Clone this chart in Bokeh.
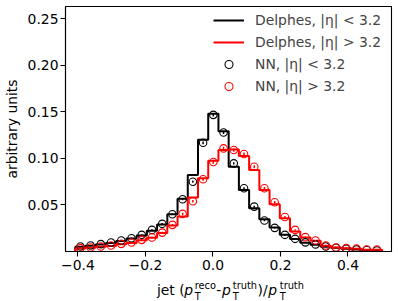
import numpy as np
from bokeh.plotting import figure
from bokeh.layouts import column
from bokeh.core.properties import value
from bokeh.models import Range1d, FixedTicker, Legend, LegendItem, ColumnDataSource
from bokeh.embed import file_html
from bokeh.resources import INLINE

# ---------------- data ----------------
bin_edges = [-0.408, -0.3777, -0.3474, -0.3171, -0.2868, -0.2565, -0.2262, -0.1959,
             -0.1656, -0.1353, -0.105, -0.0747, -0.0444, -0.0141, 0.0162, 0.0465,
             0.0768, 0.1071, 0.1374, 0.1677, 0.198, 0.2283, 0.2586, 0.2889, 0.3192,
             0.3495, 0.3798, 0.4101, 0.4404, 0.4707, 0.501]

delphes_central = [0.0050, 0.0062, 0.0075, 0.0092, 0.0112, 0.0140, 0.0172, 0.0222,
                   0.0290, 0.0400, 0.0565, 0.0820, 0.1200, 0.1480, 0.1290, 0.0910,
                   0.0660, 0.0465, 0.0347, 0.0257, 0.0180, 0.0133, 0.0095, 0.0072,
                   0.0052, 0.0040, 0.0030, 0.0022, 0.0016, 0.0011]
delphes_forward = [0.0032, 0.0040, 0.0050, 0.0060, 0.0078, 0.0092, 0.0120, 0.0148,
                   0.0198, 0.0280, 0.0375, 0.0580, 0.0786, 0.0974, 0.1089, 0.1096,
                   0.1025, 0.0875, 0.0660, 0.0507, 0.0358, 0.0214, 0.0150, 0.0115,
                   0.0062, 0.0042, 0.0035, 0.0030, 0.0020, 0.0020]

nn_central = [0.0054, 0.0064, 0.0079, 0.0096, 0.0118, 0.0143, 0.0179, 0.0232,
              0.0297, 0.0400, 0.0561, 0.0749, 0.1167, 0.1467, 0.1278, 0.0946,
              0.0679, 0.0482, 0.0332, 0.0254, 0.0179, 0.0136, 0.0098, 0.0076,
              0.0054, 0.0040, 0.0030, 0.0022, 0.0016, 0.0011]
nn_central_err = [0.0004, 0.0004, 0.0005, 0.0005, 0.0006, 0.0006, 0.0007, 0.0008,
                  0.0008, 0.0009, 0.0011, 0.0012, 0.0015, 0.0017, 0.0016, 0.0013,
                  0.0011, 0.0009, 0.0008, 0.0007, 0.0006, 0.0006, 0.0005, 0.0005,
                  0.0004, 0.0004, 0.0003, 0.0003, 0.0003, 0.0002]
nn_forward = [0.0036, 0.0043, 0.0054, 0.0064, 0.0082, 0.0096, 0.0125, 0.0150,
              0.0203, 0.0286, 0.0404, 0.0540, 0.0775, 0.0960, 0.1107, 0.1089,
              0.1046, 0.0910, 0.0679, 0.0529, 0.0370, 0.0232, 0.0154, 0.0118,
              0.0064, 0.0043, 0.0036, 0.0032, 0.0021, 0.0021]
nn_forward_err = [0.0004, 0.0004, 0.0005, 0.0005, 0.0006, 0.0006, 0.0007, 0.0008,
                  0.0009, 0.0010, 0.0012, 0.0013, 0.0015, 0.0017, 0.0018, 0.0018,
                  0.0017, 0.0016, 0.0014, 0.0012, 0.0010, 0.0008, 0.0007, 0.0006,
                  0.0005, 0.0004, 0.0004, 0.0004, 0.0003, 0.0003]

x_ticks = [-0.4, -0.2, 0.0, 0.2, 0.4]
x_tick_labels = ["\u22120.4", "\u22120.2", "0.0", "0.2", "0.4"]
y_ticks = [0.05, 0.10, 0.15, 0.20, 0.25]
y_tick_labels = ["0.05", "0.10", "0.15", "0.20", "0.25"]

y_title = "arbitrary units"
legend_labels = ["Delphes, |\u03b7| < 3.2", "Delphes, |\u03b7| > 3.2",
                 "NN, |\u03b7| < 3.2", "NN, |\u03b7| > 3.2"]

# ---------------- derived geometry ----------------
edges = np.array(bin_edges)
centers = 0.5 * (edges[:-1] + edges[1:])


def step_outline(vals):
    v = np.array(vals)
    xs = np.concatenate([[edges[0]], np.repeat(edges, 2)[1:-1], [edges[-1]]])
    ys = np.concatenate([[0.0], np.repeat(v, 2), [0.0]])
    return xs, ys


FONT = "DejaVu Sans"
FS = "13.9px"
SMALL = "9.8px"

W = 398
FL, FR = 63, 391          # frame left / right in page pixels
X0, X1 = -0.437, 0.529
p = figure(width=W, height=276, output_backend="svg", toolbar_location=None,
           title=None, x_range=Range1d(X0, X1), y_range=Range1d(0, 0.263),
           min_border_left=FL, min_border_right=W - FR, min_border_top=6,
           min_border_bottom=25)

p.background_fill_color = "white"
p.border_fill_color = "white"
p.grid.visible = False
p.outline_line_color = "black"
p.outline_line_width = 1.1

for ax in (p.xaxis[0], p.yaxis[0]):
    ax.axis_line_color = "black"
    ax.axis_line_width = 1.1
    ax.major_tick_line_color = "black"
    ax.major_tick_line_width = 1.1
    ax.major_tick_in = 0
    ax.major_tick_out = 5
    ax.minor_tick_line_color = None
    ax.major_label_text_font = FONT
    ax.major_label_text_font_size = FS
    ax.major_label_text_color = "black"

p.xaxis.ticker = FixedTicker(ticks=x_ticks)
p.xaxis.major_label_overrides = dict(zip(x_ticks, x_tick_labels))
p.xaxis.major_label_standoff = 3
p.yaxis.ticker = FixedTicker(ticks=y_ticks)
p.yaxis.major_label_overrides = dict(zip(y_ticks, y_tick_labels))
p.yaxis.major_label_standoff = 2
p.yaxis.axis_label = y_title
p.yaxis.axis_label_text_font = FONT
p.yaxis.axis_label_text_font_size = FS
p.yaxis.axis_label_text_font_style = "normal"
p.yaxis.axis_label_text_color = "black"
p.yaxis.axis_label_standoff = 5

# Delphes step histograms
xc, yc = step_outline(delphes_central)
xf, yf = step_outline(delphes_forward)
r_dc = p.line(xc, yc, line_color="black", line_width=2)
r_df = p.line(xf, yf, line_color="red", line_width=2)

# NN points with error bars
src_c = ColumnDataSource(dict(x=centers, y=nn_central,
                              lo=np.array(nn_central) - np.array(nn_central_err),
                              hi=np.array(nn_central) + np.array(nn_central_err)))
src_f = ColumnDataSource(dict(x=centers, y=nn_forward,
                              lo=np.array(nn_forward) - np.array(nn_forward_err),
                              hi=np.array(nn_forward) + np.array(nn_forward_err)))
p.segment(x0="x", y0="lo", x1="x", y1="hi", source=src_c, line_color="black", line_width=1.5)
r_nc = p.scatter("x", "y", source=src_c, marker="circle", size=7.5, fill_color=None,
                 line_color="black", line_width=1.1)
p.segment(x0="x", y0="lo", x1="x", y1="hi", source=src_f, line_color="red", line_width=1.5)
r_nf = p.scatter("x", "y", source=src_f, marker="circle", size=7.5, fill_color=None,
                 line_color="red", line_width=1.1)

legend = Legend(items=[LegendItem(label=legend_labels[0], renderers=[r_dc]),
                       LegendItem(label=legend_labels[1], renderers=[r_df]),
                       LegendItem(label=legend_labels[2], renderers=[r_nc]),
                       LegendItem(label=legend_labels[3], renderers=[r_nf])],
                location=(148, 155), margin=0, padding=2, spacing=2,
                glyph_width=31, glyph_height=20, label_height=20, label_standoff=11,
                label_text_font=FONT, label_text_font_size=FS,
                border_line_color=None, background_fill_alpha=0)
p.add_layout(legend)

# ---------------- x axis title strip: jet (p_T^reco-p_T^truth)/p_T^truth ----------------
# the strip's frame is aligned with the main frame by the column layout,
# so its x range is expressed in page pixels of that frame
q = figure(width=W, height=25, output_backend="svg", toolbar_location=None, title=None,
           x_range=Range1d(FL, FR), y_range=Range1d(25, 0),
           x_axis_type=None, y_axis_type=None, min_border=0,
           min_border_left=FL, min_border_right=W - FR, min_border_top=0,
           min_border_bottom=0)
q.outline_line_color = None
q.background_fill_color = "white"
q.border_fill_color = "white"

big = dict(t=["jet (", "-", ")/"], x=[155.0, 214.6, 256.3], y=[13.5, 13.5, 13.5])
ital = dict(t=["p", "p", "p"], x=[182.6, 220.4, 267.0], y=[13.5, 13.5, 13.5])
small = dict(t=["reco", "T", "truth", "T", "truth", "T"],
             x=[193.0, 193.0, 231.4, 231.4, 278.6, 278.6],
             y=[8.5, 19.5, 8.5, 19.5, 8.5, 19.5])
q.text(x="x", y="y", text="t", source=ColumnDataSource(big), text_font=value(FONT),
       text_font_size=value(FS), text_align="left", text_baseline="alphabetic",
       text_color="black")
q.text(x="x", y="y", text="t", source=ColumnDataSource(ital), text_font=value(FONT),
       text_font_size=value(FS), text_font_style="italic", text_align="left",
       text_baseline="alphabetic", text_color="black")
q.text(x="x", y="y", text="t", source=ColumnDataSource(small), text_font=value(FONT),
       text_font_size=value(SMALL), text_align="left", text_baseline="alphabetic",
       text_color="black")

layout = column(p, q, spacing=0)
open("out.html", "w").write(file_html(layout, INLINE))
